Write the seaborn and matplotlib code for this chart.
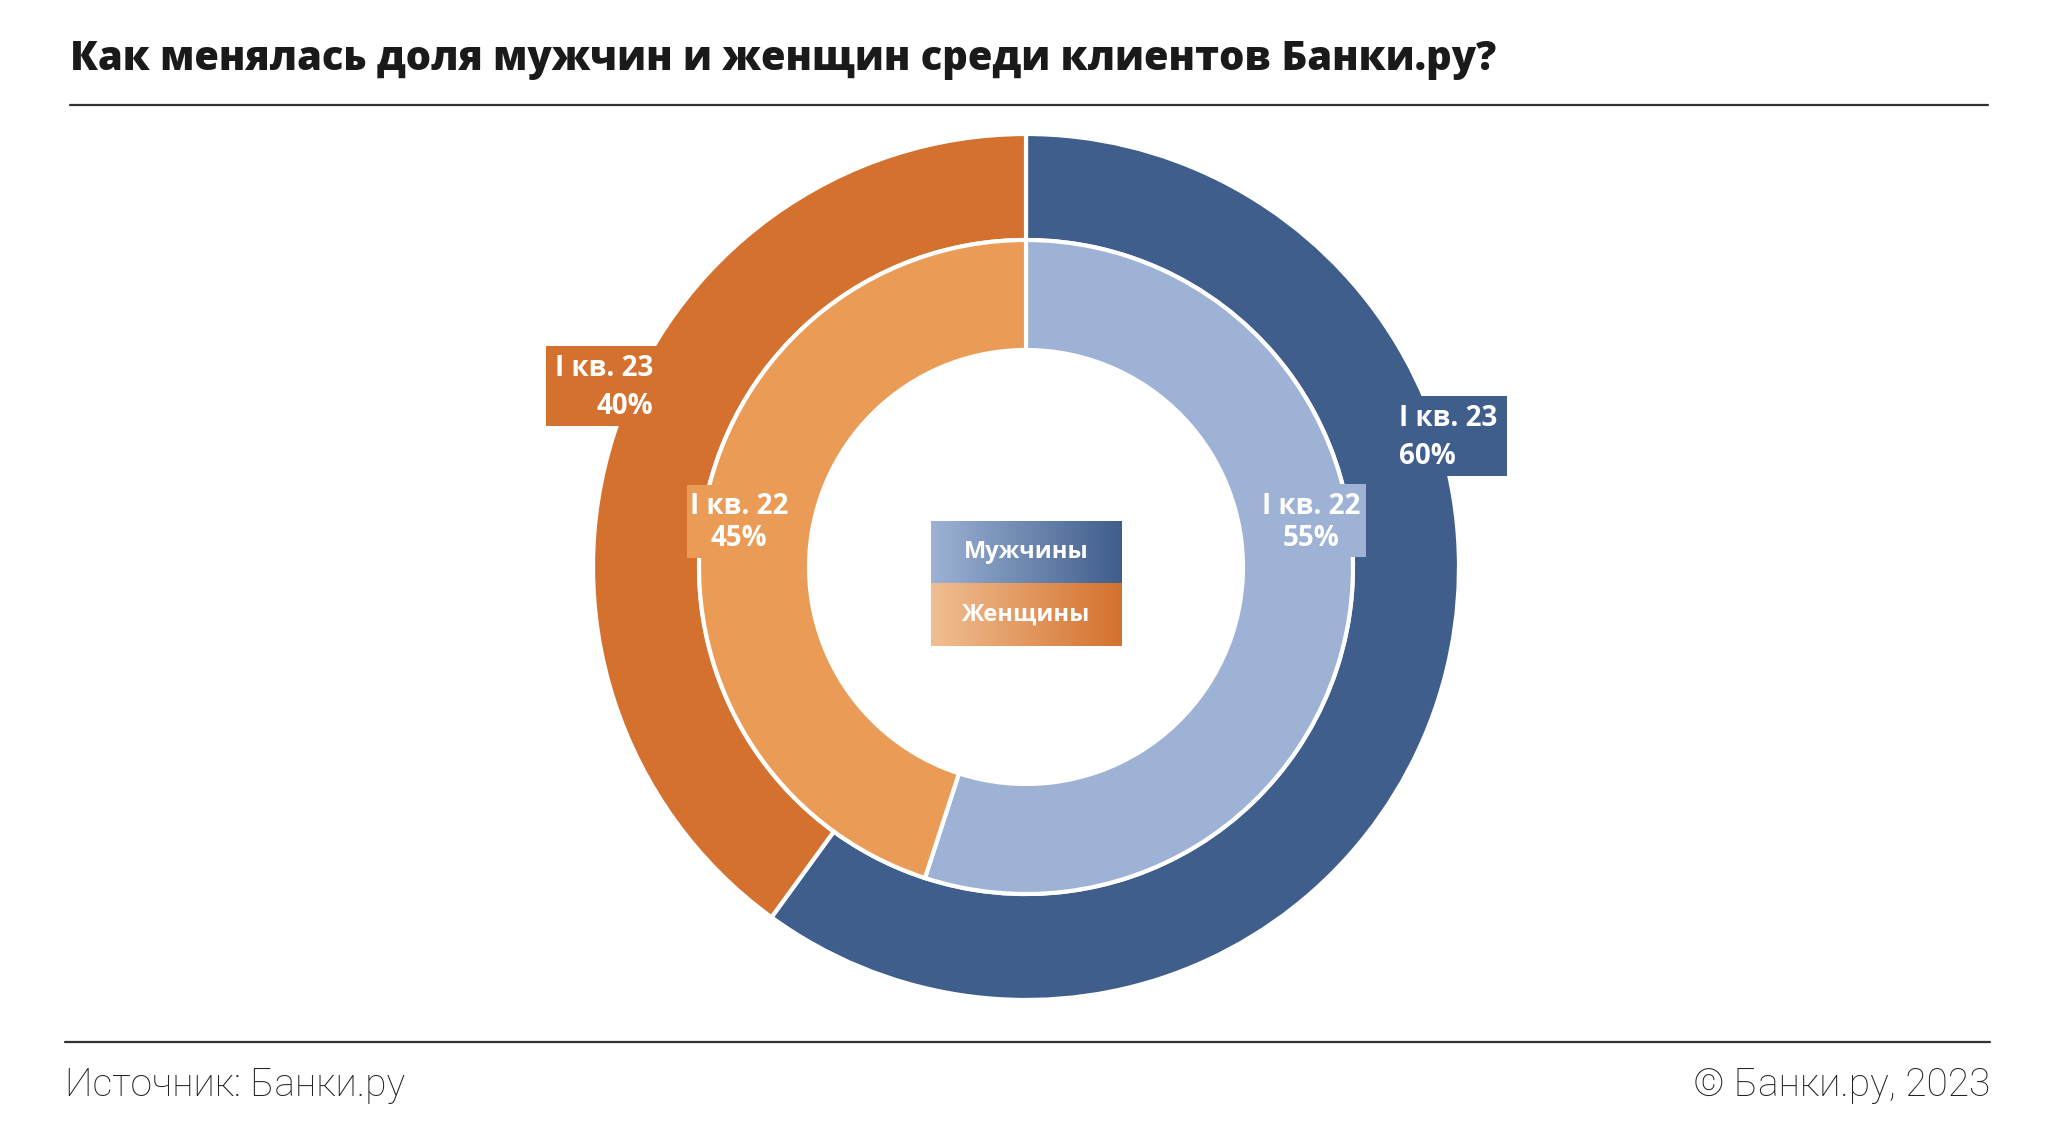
import numpy as np
import matplotlib
matplotlib.use("Agg")
import matplotlib.pyplot as plt
from matplotlib.patches import Rectangle
from matplotlib.colors import LinearSegmentedColormap
import seaborn as sns

# ---- data ----
periods = ["I кв. 22", "I кв. 23"]
groups = ["Мужчины", "Женщины"]
men = [55, 60]
women = [45, 40]
title = "Как менялась доля мужчин и женщин среди клиентов Банки.ру?"
source = "Источник: Банки.ру"
copyright_txt = "© Банки.ру, 2023"

# ---- style ----
sns.set_theme(style="white")
plt.rcParams['font.family'] = ['Open Sans', 'DejaVu Sans']

men_dark, men_light = "#3F5E8C", "#9DB2D4"
wom_dark, wom_light = "#D4712E", "#EA9B56"
pal_outer = sns.color_palette([men_dark, wom_dark])
pal_inner = sns.color_palette([men_light, wom_light])

W, H = 2050, 1140
fig = plt.figure(figsize=(W / 100, H / 100), dpi=100)
fig.patch.set_facecolor("white")

def fx(x):
    return x / W

def fy(y):
    return 1 - y / H

# pie axes: center (1026, 567), outer radius 433 px
cx, cy, R = 1026, 567, 433
ax = fig.add_axes([fx(cx - R), fy(cy + R), 2 * R / W, 2 * R / H])
r_mid = 327 / R
r_in = 217 / R
ax.pie([men[1], women[1]], radius=1.0, colors=pal_outer, startangle=90,
       counterclock=False,
       wedgeprops=dict(width=1.0 - r_mid, edgecolor="white", linewidth=3))
ax.pie([men[0], women[0]], radius=r_mid, colors=pal_inner, startangle=90,
       counterclock=False,
       wedgeprops=dict(width=r_mid - r_in, edgecolor="white", linewidth=3))
ax.set_xlim(-1, 1)
ax.set_ylim(-1, 1)
ax.set_aspect("equal")
ax.axis("off")

# ---- label boxes ----
def label_box(x0, x1, y0, y1, color, lines, tx, ha, ys, fs=20):
    fig.add_artist(Rectangle((fx(x0), fy(y1)), fx(x1) - fx(x0), fy(y0) - fy(y1),
                             transform=fig.transFigure, facecolor=color,
                             edgecolor="none", zorder=2))
    for t, yy in zip(lines, ys):
        fig.text(fx(tx), fy(yy), t, ha=ha, va="center", color="white",
                 fontsize=fs, fontweight="bold", zorder=3)

label_box(1383, 1507, 396, 476, men_dark,
          [periods[1], f"{men[1]}%"], 1399, "left", [419, 456])
label_box(1252, 1366, 484, 557, men_light,
          [periods[0], f"{men[0]}%"], 1311, "center", [507, 539])
label_box(546, 663, 346, 426, wom_dark,
          [periods[1], f"{women[1]}%"], 653, "right", [369, 406])
label_box(687, 788, 485, 558, wom_light,
          [periods[0], f"{women[0]}%"], 739, "center", [507, 539])

# ---- gradient legend ----
lx0, lx1, ly0, lmid, ly1 = 931, 1122, 521, 583, 646
lax = fig.add_axes([fx(lx0), fy(ly1), (lx1 - lx0) / W, (ly1 - ly0) / H])
lax.set_xlim(0, 1)
lax.set_ylim(0, 1)
lax.axis("off")
grad = np.linspace(0, 1, 256).reshape(1, -1)
cm_m = LinearSegmentedColormap.from_list("m", [men_light, men_dark])
cm_w = LinearSegmentedColormap.from_list("w", ["#F0BF92", wom_dark])
hfrac = (ly1 - lmid) / (ly1 - ly0)
lax.imshow(grad, cmap=cm_m, extent=[0, 1, hfrac, 1], aspect="auto")
lax.imshow(grad, cmap=cm_w, extent=[0, 1, 0, hfrac], aspect="auto")
lax.set_xlim(0, 1)
lax.set_ylim(0, 1)
lax.text(0.5, (1 + hfrac) / 2, groups[0], ha="center", va="center",
         color="white", fontsize=17, fontweight="bold")
lax.text(0.5, hfrac / 2, groups[1], ha="center", va="center",
         color="white", fontsize=17, fontweight="bold")

# ---- title, rules, footer ----
fig.text(fx(70), fy(60), title, ha="left", va="center", fontsize=28.7,
         fontweight="heavy", color="#1a1a1a")
fig.add_artist(plt.Line2D([fx(70), fx(1988)], [fy(105), fy(105)],
                          transform=fig.transFigure, color="#333333", lw=1.6))
fig.add_artist(plt.Line2D([fx(65), fx(1990)], [fy(1042), fy(1042)],
                          transform=fig.transFigure, color="#333333", lw=1.6))
fig.text(fx(65), fy(1085), source, ha="left", va="center", fontsize=28,
         fontweight="light", color="#222222", family=["Roboto", "DejaVu Sans"])
fig.text(fx(1990), fy(1085), copyright_txt, ha="right", va="center",
         fontsize=28, fontweight="light", color="#222222",
         family=["Roboto", "DejaVu Sans"])

fig.savefig("out.png", dpi=100, facecolor="white")
